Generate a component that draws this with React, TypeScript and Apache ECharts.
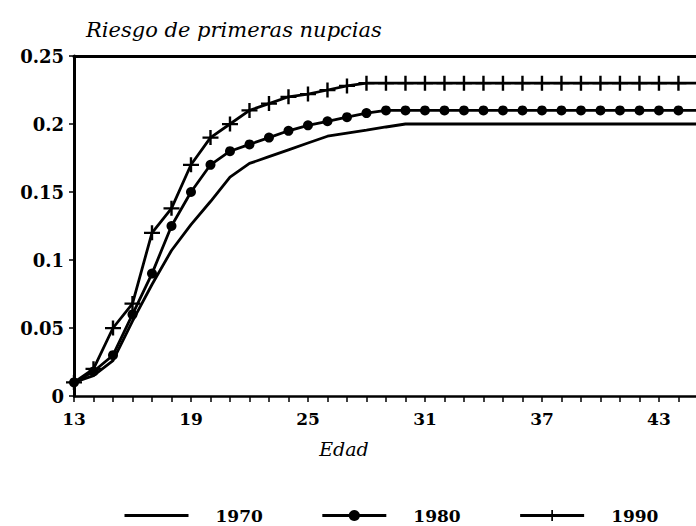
import React, { useEffect, useRef } from "react";
import * as echarts from "echarts";

const ages = [13,14,15,16,17,18,19,20,21,22,23,24,25,26,27,28,29,30,31,32,33,34,35,36,37,38,39,40,41,42,43,44,45];
const s1970 = [0.01,0.015,0.026,0.055,0.082,0.107,0.126,0.143,0.161,0.171,0.176,0.181,0.186,0.191,0.1933,0.1955,0.1978,0.2,0.2,0.2,0.2,0.2,0.2,0.2,0.2,0.2,0.2,0.2,0.2,0.2,0.2,0.2,0.2];
const s1980 = [0.01,0.018,0.03,0.06,0.09,0.125,0.15,0.17,0.18,0.185,0.19,0.195,0.199,0.202,0.205,0.208,0.21,0.21,0.21,0.21,0.21,0.21,0.21,0.21,0.21,0.21,0.21,0.21,0.21,0.21,0.21,0.21,0.21];
const s1990 = [0.01,0.02,0.05,0.068,0.12,0.138,0.17,0.19,0.2,0.21,0.215,0.22,0.222,0.225,0.228,0.23,0.23,0.23,0.23,0.23,0.23,0.23,0.23,0.23,0.23,0.23,0.23,0.23,0.23,0.23,0.23,0.23,0.23];
const seriesNames = ["1970", "1980", "1990"];
const xLabelAges = [13, 19, 25, 31, 37, 43];
const titleText = "Riesgo de primeras nupcias";
const xTitle = "Edad";

const FONT = '"DejaVu Serif", serif';
const PLUS = "path://M8.5,0 H11.5 V8.5 H20 V11.5 H11.5 V20 H8.5 V11.5 H0 V8.5 H8.5 Z";

export default function App() {
  const ref = useRef<HTMLDivElement>(null);
  useEffect(() => {
    if (!ref.current) return;
    const chart = echarts.init(ref.current, null, { renderer: "svg" });
    const toPairs = (vals: number[]) => ages.map((a, i) => [a, vals[i]]);
    const lineStyle = { color: "#000", width: 2.8 };
    chart.setOption({
      animation: false,
      backgroundColor: "#fff",
      grid: { left: 74, right: 0, top: 56, bottom: 130, containLabel: false },
      xAxis: [
        {
          type: "value",
          min: 13,
          max: 44.9,
          interval: 1,
          splitLine: { show: false },
          axisLine: { show: true, lineStyle: { color: "#000", width: 2.5 } },
          axisTick: { show: true, inside: false, length: 6, lineStyle: { color: "#000", width: 1.5 } },
          axisLabel: {
            margin: 14,
            color: "#000",
            fontFamily: FONT,
            fontWeight: "bold",
            fontSize: 17,
            showMaxLabel: false,
            formatter: (v: number) => (xLabelAges.some((a) => Math.abs(a - v) < 1e-6) ? String(v) : ""),
          },
        },
        {
          type: "value",
          position: "top",
          min: 13,
          max: 44.9,
          splitLine: { show: false },
          axisLine: { show: true, lineStyle: { color: "#000", width: 3 } },
          axisTick: { show: false },
          axisLabel: { show: false },
        },
      ],
      yAxis: {
        type: "value",
        min: 0,
        max: 0.25,
        interval: 0.05,
        splitLine: { show: false },
        axisLine: { show: true, lineStyle: { color: "#000", width: 3 } },
        axisTick: { show: true, inside: false, length: 5, lineStyle: { color: "#000", width: 1.5 } },
        axisLabel: {
          margin: 10,
          color: "#000",
          fontFamily: FONT,
          fontWeight: "bold",
          fontSize: 18,
        },
      },
      legend: {
        left: 118,
        top: 502,
        itemWidth: 64,
        itemHeight: 14,
        itemGap: 58,
        lineStyle: { color: "#000", width: 3 },
        textStyle: { color: "#000", fontFamily: FONT, fontWeight: "bold", fontSize: 17, padding: [0, 0, 0, 22] },
        data: [
          { name: seriesNames[0], itemStyle: { opacity: 0 } },
          { name: seriesNames[1] },
          { name: seriesNames[2] },
        ],
      },
      graphic: [
        {
          type: "text",
          x: 86,
          y: 30,
          style: { text: titleText, font: `italic 21px ${FONT}`, fill: "#000", align: "left", verticalAlign: "middle" },
        },
        {
          type: "text",
          x: 344,
          y: 449,
          style: { text: xTitle, font: `italic 19px ${FONT}`, fill: "#000", align: "center", verticalAlign: "middle" },
        },
      ],
      series: [
        {
          name: seriesNames[0],
          type: "line",
          data: toPairs(s1970),
          symbol: "none",
          lineStyle,
          itemStyle: { color: "#000" },
        },
        {
          name: seriesNames[1],
          type: "line",
          data: toPairs(s1980),
          symbol: "circle",
          symbolSize: 10,
          showAllSymbol: true,
          lineStyle,
          itemStyle: { color: "#000" },
        },
        {
          name: seriesNames[2],
          type: "line",
          data: toPairs(s1990),
          symbol: PLUS,
          symbolSize: [16, 15],
          symbolKeepAspect: false,
          showAllSymbol: true,
          lineStyle,
          itemStyle: { color: "#000" },
        },
      ],
    });
    return () => chart.dispose();
  }, []);
  return <div ref={ref} style={{ position: "fixed", left: 0, top: 0, width: 696, height: 526 }} />;
}
